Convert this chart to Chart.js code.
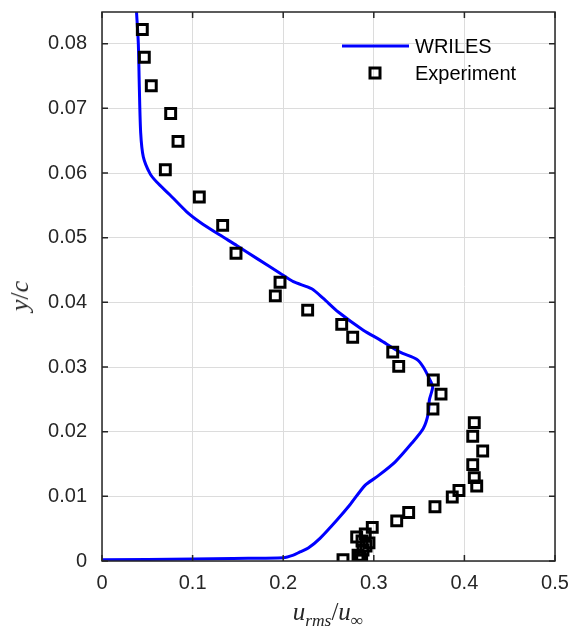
<!DOCTYPE html>
<html>
<head>
<meta charset="utf-8">
<script src="https://cdn.jsdelivr.net/npm/chart.js@4.4.1/dist/chart.umd.min.js"></script>
<style>
  body { margin: 0; background: #fff; }
  #wrap { position: relative; width: 573px; height: 635px; }
  .axtitle { position: absolute; font-family: "Liberation Serif", "DejaVu Serif", serif; color: #262626; white-space: nowrap; }
  .axtitle sub { font-size: 0.7em; }
  #xtitle { left: 328px; top: 598px; font-size: 25px; transform: translateX(-50%); }
  #ytitle { left: 20px; top: 296px; font-size: 26px; transform: translate(-50%, -50%) rotate(-90deg); }
</style>
</head>
<body>
<div id="wrap">
  <canvas id="chart" width="573" height="635"></canvas>
  <div id="xtitle" class="axtitle"><i>u<sub>rms</sub></i>/<i>u</i><sub>&infin;</sub></div>
  <div id="ytitle" class="axtitle"><i>y</i>/<i>c</i></div>
</div>
<script>
// WRILES profile (u_rms/u_inf, y/c)
const lesX = [0.0381, 0.0401, 0.0412, 0.0427, 0.0456, 0.0530, 0.0604, 0.0751, 0.0935, 0.1082,
              0.1302, 0.1487, 0.1708, 0.1965, 0.2112, 0.2315, 0.2443, 0.2608, 0.2884, 0.3068,
              0.3289, 0.3473, 0.3546, 0.3620, 0.3650, 0.3613, 0.3601, 0.3546, 0.3418, 0.3234,
              0.3032, 0.2903, 0.2737, 0.2591, 0.2406, 0.2277, 0.2185, 0.2112, 0.2001, 0.1449,
              0.1008, 0.0];
const lesY = [0.0849, 0.0800, 0.0733, 0.0662, 0.0625, 0.0599, 0.0586, 0.0566, 0.0540, 0.0524,
              0.0504, 0.0488, 0.0468, 0.0445, 0.0432, 0.0421, 0.0406, 0.0385, 0.0357, 0.0342,
              0.0323, 0.0312, 0.0300, 0.0280, 0.0269, 0.0249, 0.0228, 0.0205, 0.0182, 0.0153,
              0.0130, 0.0117, 0.0087, 0.0063, 0.0035, 0.0020, 0.0014, 0.0009, 0.0005, 0.0004,
              0.0003, 0.0002];

// Experiment
const expX = [0.0445, 0.0467, 0.0544, 0.0758, 0.0839, 0.0699, 0.1074, 0.1332, 0.1479, 0.1965,
              0.1913, 0.2270, 0.2646, 0.2767, 0.3209, 0.3275, 0.3657, 0.3742, 0.3653, 0.4109,
              0.4092, 0.4202, 0.4092, 0.4109, 0.4136, 0.3940, 0.3866, 0.3675, 0.3385, 0.3253,
              0.2983, 0.2906, 0.2811, 0.2947, 0.2870, 0.2914, 0.2881, 0.2826, 0.2848, 0.2866,
              0.2660];
const expY = [0.0822, 0.0779, 0.0735, 0.0692, 0.0649, 0.0605, 0.0563, 0.0519, 0.0476, 0.0431,
              0.0410, 0.0388, 0.0366, 0.0346, 0.0323, 0.0301, 0.0280, 0.0258, 0.0235, 0.0214,
              0.0193, 0.0170, 0.0149, 0.0129, 0.0116, 0.0109, 0.0099, 0.0084, 0.0075, 0.0062,
              0.0052, 0.0042, 0.0037, 0.0028, 0.0031, 0.0023, 0.0017, 0.0009, 0.0006, 0.0002,
              0.0002];

const seriesNames = ['WRILES', 'Experiment'];
const xTicks = [0, 0.1, 0.2, 0.3, 0.4, 0.5];
const yTicks = [0, 0.01, 0.02, 0.03, 0.04, 0.05, 0.06, 0.07, 0.08];

const axisColor = '#262626';
const tickFont = { family: 'Liberation Sans, Arial, sans-serif', size: 20 };

// MATLAB style box with inward ticks + legend inside the axes
const boxPlugin = {
    id: 'box',
    afterDraw(chart) {
        const ctx = chart.ctx;
        const a = chart.chartArea;
        const xs = chart.scales.x, ys = chart.scales.y;
        const len = 6;
        ctx.save();
        ctx.strokeStyle = axisColor;
        ctx.lineWidth = 1.5;
        ctx.strokeRect(a.left, a.top, a.right - a.left, a.bottom - a.top);
        ctx.beginPath();
        xTicks.forEach(v => {
            const px = xs.getPixelForValue(v);
            ctx.moveTo(px, a.bottom); ctx.lineTo(px, a.bottom - len);
            ctx.moveTo(px, a.top); ctx.lineTo(px, a.top + len);
        });
        yTicks.forEach(v => {
            const py = ys.getPixelForValue(v);
            ctx.moveTo(a.left, py); ctx.lineTo(a.left + len, py);
            ctx.moveTo(a.right, py); ctx.lineTo(a.right - len, py);
        });
        ctx.stroke();

        // legend
        const lx = a.left + 240, ly = a.top + 34;
        ctx.strokeStyle = '#0000ff';
        ctx.lineWidth = 3;
        ctx.beginPath();
        ctx.moveTo(lx, ly); ctx.lineTo(lx + 67, ly);
        ctx.stroke();
        ctx.strokeStyle = '#000';
        ctx.lineWidth = 3;
        ctx.strokeRect(lx + 33 - 5, ly + 27 - 5, 10, 10);
        ctx.fillStyle = '#000';
        ctx.font = '20px Liberation Sans, Arial, sans-serif';
        ctx.textBaseline = 'middle';
        ctx.textAlign = 'left';
        ctx.fillText(seriesNames[0], lx + 73, ly + 1);
        ctx.fillText(seriesNames[1], lx + 73, ly + 28);
        ctx.restore();
    }
};

const ctx = document.getElementById('chart').getContext('2d');
new Chart(ctx, {
    type: 'scatter',
    data: {
        datasets: [{
            label: seriesNames[0],
            type: 'line',
            data: lesX.map((x, i) => ({ x: x, y: lesY[i] })),
            borderColor: '#0000ff',
            borderWidth: 3,
            pointRadius: 0,
            fill: false,
            tension: 0.25,
            order: 2
        }, {
            label: seriesNames[1],
            data: expX.map((x, i) => ({ x: x, y: expY[i] })),
            pointStyle: 'rect',
            pointRadius: 7,
            pointBorderWidth: 3,
            borderColor: '#000',
            backgroundColor: 'rgba(0,0,0,0)',
            showLine: false,
            order: 1
        }]
    },
    options: {
        responsive: false,
        animation: false,
        layout: { padding: { left: 0, top: 12, right: 18, bottom: 0 } },
        plugins: {
            legend: { display: false },
            tooltip: { enabled: false }
        },
        scales: {
            x: {
                type: 'linear',
                min: 0,
                max: 0.5,
                afterFit: s => { s.height = 74; s.paddingLeft = 0; s.paddingRight = 0; },
                afterBuildTicks: s => { s.ticks = xTicks.map(v => ({ value: v })); },
                grid: { color: '#dcdcdc', lineWidth: 1, drawTicks: false },
                border: { display: false },
                ticks: {
                    color: axisColor,
                    font: tickFont,
                    padding: 10,
                    maxRotation: 0,
                    callback: v => String(+v.toFixed(2))
                }
            },
            y: {
                type: 'linear',
                min: 0,
                max: 0.0849,
                afterFit: s => { s.width = 102; s.paddingTop = 0; s.paddingBottom = 0; },
                afterBuildTicks: s => { s.ticks = yTicks.map(v => ({ value: v })); },
                grid: { color: '#dcdcdc', lineWidth: 1, drawTicks: false },
                border: { display: false },
                ticks: {
                    color: axisColor,
                    font: tickFont,
                    padding: 15,
                    callback: v => String(+v.toFixed(2))
                }
            }
        }
    },
    plugins: [boxPlugin]
});
</script>
</body>
</html>
